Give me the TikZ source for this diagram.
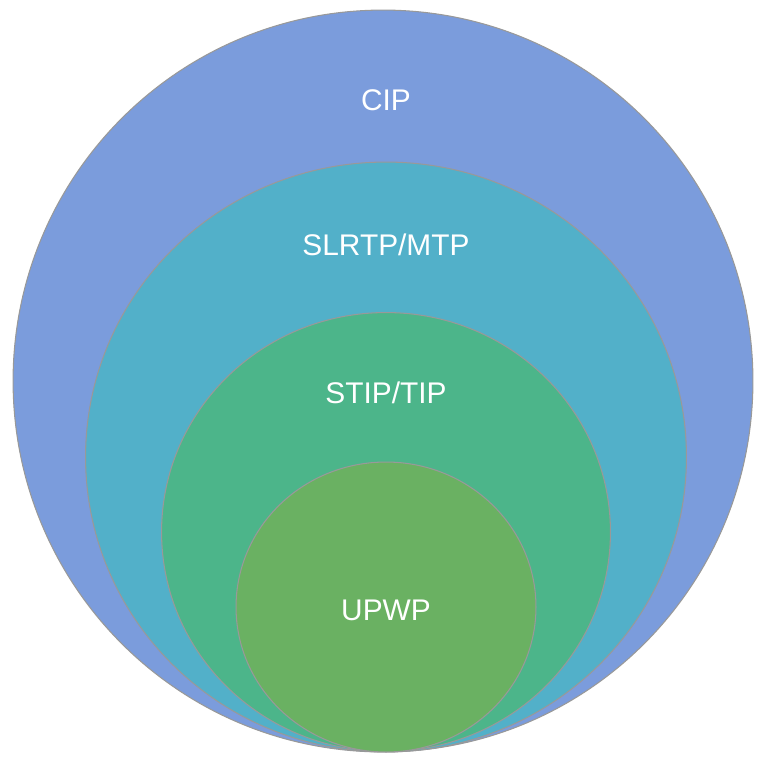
\documentclass[tikz,border=0pt]{standalone}
\usepackage{fontspec}
\usetikzlibrary{shapes.geometric}
\setmainfont{Liberation Sans}

\definecolor{cipblue}{RGB}{123,156,220}
\definecolor{mtpteal}{RGB}{82,176,201}
\definecolor{tipgreen}{RGB}{76,181,138}
\definecolor{upwpgreen}{RGB}{106,177,98}

\newcommand*{\cx}{386}
\newcommand*{\wmax}{757}
\newcommand*{\hmax}{760}

\begin{document}
\begin{tikzpicture}
[
	x=0.02cm, y=-0.02cm,
	ring/.style={ellipse,draw=black!40,line width=0.6pt,inner sep=0pt},
	ringlbl/.style={text=white,font=\fontsize{17}{20}\selectfont}
]

	% frame
	\useasboundingbox (0,0) rectangle (\wmax,\hmax);

	% rings, all touching at the bottom
	\node[ring,fill=cipblue,minimum width=14.8cm,minimum height=14.84cm] (cip) at (383,381) {};
	\node[ring,fill=mtpteal,minimum width=12.02cm,minimum height=11.8cm] (mtp) at (\cx,457) {};
	\node[ring,fill=tipgreen,minimum width=8.98cm,minimum height=8.78cm] (tip) at (\cx,532) {};
	\node[ring,fill=upwpgreen,minimum width=6cm,minimum height=5.8cm] (upwp) at (\cx,607) {};

	% labels
	\node[ringlbl] (cipl) at (\cx,100) {CIP};
	\node[ringlbl] (mtpl) at (\cx,245) {SLRTP/MTP};
	\node[ringlbl] (tipl) at (\cx,393) {STIP/TIP};
	\node[ringlbl] (upwpl) at (\cx,610) {UPWP};

\end{tikzpicture}
\end{document}
